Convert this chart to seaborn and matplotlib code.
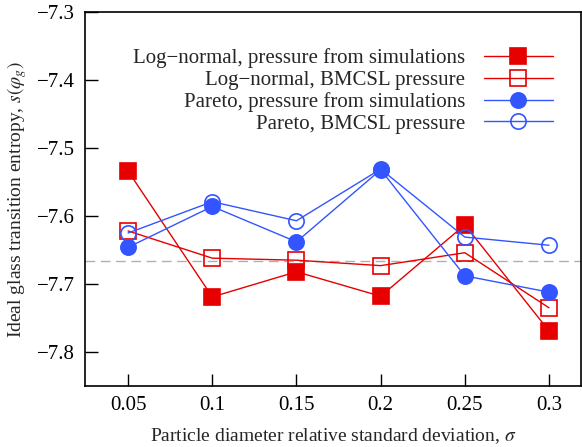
import matplotlib
matplotlib.use("Agg")
import matplotlib.pyplot as plt
import seaborn as sns
import pandas as pd

sigma = [0.05, 0.1, 0.15, 0.2, 0.25, 0.3]
lognormal_sim = [-7.534, -7.719, -7.682, -7.718, -7.613, -7.769]
lognormal_bmcsl = [-7.622, -7.662, -7.665, -7.673, -7.654, -7.735]
pareto_sim = [-7.646, -7.586, -7.638, -7.532, -7.688, -7.712]
pareto_bmcsl = [-7.625, -7.579, -7.607, -7.531, -7.631, -7.643]
reference_level = -7.666
labels = ["Log\u2212normal, pressure from simulations",
          "Log\u2212normal, BMCSL pressure",
          "Pareto, pressure from simulations",
          "Pareto, BMCSL pressure"]

sns.set_theme(style="white")
plt.rcParams['font.family'] = ['Liberation Serif', 'DejaVu Serif']
plt.rcParams['mathtext.fontset'] = 'stix'

fig = plt.figure(figsize=(5.82, 4.47), dpi=100)
ax = fig.add_axes([85/582, 1-386/447, (581-85)/582, (386-12)/447])

red = "#e60000"
blue = "#3355ff"
series = [
    (lognormal_sim, red, "s", red, 12),
    (lognormal_bmcsl, red, "s", "none", 12),
    (pareto_sim, blue, "o", blue, 11),
    (pareto_bmcsl, blue, "o", "none", 11),
]
for (vals, col, mk, fc, ms), lab in zip(series, labels):
    df = pd.DataFrame({"x": sigma, "y": vals})
    sns.lineplot(data=df, x="x", y="y", ax=ax, color=col, marker=mk,
                 markersize=ms, markerfacecolor=fc, markeredgecolor=col,
                 markeredgewidth=1.2, linewidth=1.0, label=lab)

ax.axhline(reference_level, color="#b0b0b0", linestyle=(0, (7, 4)), linewidth=1.0, zorder=0)

ax.set_xlim(0.0244, 0.319)
ax.set_ylim(-7.85, -7.3)
ax.set_xticks(sigma)
ax.set_xticklabels(["0.05", "0.1", "0.15", "0.2", "0.25", "0.3"])
ax.set_yticks([-7.8, -7.7, -7.6, -7.5, -7.4, -7.3])
ax.set_yticklabels(["\u22127.8", "\u22127.7", "\u22127.6", "\u22127.5", "\u22127.4", "\u22127.3"])
ax.tick_params(direction="in", length=9, width=1, labelsize=15, colors="black",
               bottom=True, left=True, top=False, right=False, pad=7)
for s in ax.spines.values():
    s.set_color("black")
    s.set_linewidth(1.2)

ax.set_xlabel(r"Particle diameter relative standard deviation, $\sigma$", fontsize=14, labelpad=8)
ax.set_ylabel(r"Ideal glass transition entropy, $s(\varphi_g)$", fontsize=14, labelpad=6)

leg = ax.legend(loc="upper right", bbox_to_anchor=(0.96, 0.925), markerfirst=False,
                frameon=False, fontsize=15, handlelength=3.3, labelspacing=0.1,
                handletextpad=0.9, borderaxespad=0)
for t in leg.get_texts():
    t.set_ha("right")

fig.savefig("out.png", dpi=100)
